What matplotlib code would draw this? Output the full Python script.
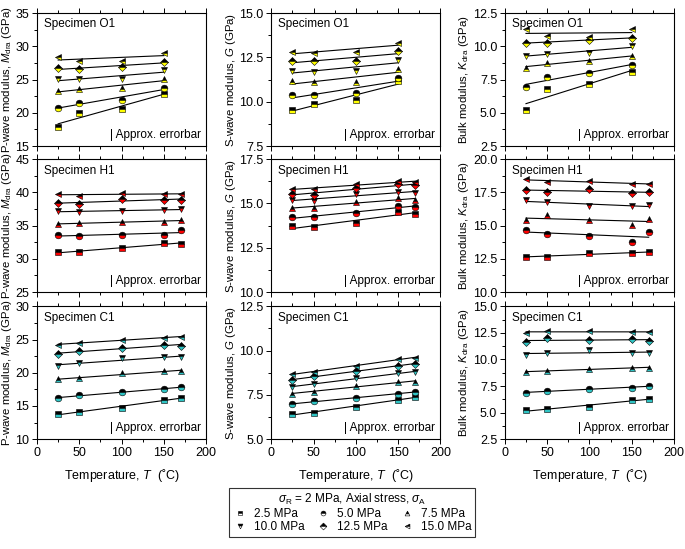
import matplotlib
matplotlib.use('Agg')
import matplotlib.pyplot as plt
from matplotlib.lines import Line2D
from matplotlib.ticker import MultipleLocator
import numpy as np

plt.rcParams['font.family'] = ['Liberation Sans', 'DejaVu Sans']
plt.rcParams['mathtext.fontset'] = 'custom'
plt.rcParams['mathtext.rm'] = 'Liberation Sans'
plt.rcParams['mathtext.it'] = 'Liberation Sans:italic'

stress_labels = ['2.5 MPa', '5.0 MPa', '7.5 MPa', '10.0 MPa', '12.5 MPa', '15.0 MPa']
markers = ['s', 'o', '^', 'v', 'D', '<']

temp_o1 = [25, 50, 100, 150]
temp_h1 = [25, 50, 100, 150, 170]
temp_c1 = [25, 50, 100, 150, 170]

# specimen O1
M_o1 = [[17.9, 20.0, 20.6, 22.9],
        [20.7, 21.5, 22.0, 23.7],
        [23.25, 23.6, 23.7, 25.1],
        [25.05, 25.05, 25.15, 26.4],
        [26.7, 26.65, 26.85, 27.7],
        [28.4, 27.8, 27.8, 29.0]]
G_o1 = [[9.52, 9.87, 10.1, 11.15],
        [10.37, 10.37, 10.48, 11.35],
        [11.15, 11.1, 11.1, 11.85],
        [11.75, 11.7, 11.73, 12.35],
        [12.3, 12.29, 12.29, 12.85],
        [12.8, 12.77, 12.83, 13.3]]
K_o1 = [[5.23, 6.78, 7.16, 8.09],
        [6.96, 7.68, 8.02, 8.6],
        [8.4, 8.76, 8.92, 9.28],
        [9.3, 9.43, 9.54, 10.0],
        [10.28, 10.28, 10.5, 10.64],
        [11.29, 10.77, 10.67, 11.29]]

# specimen H1
M_h1 = [[31.07, 31.0, 31.57, 32.4, 32.3],
        [33.65, 33.4, 33.55, 33.6, 34.3],
        [35.2, 35.4, 35.6, 35.6, 35.8],
        [37.2, 37.05, 37.2, 37.4, 37.45],
        [38.4, 38.3, 39.0, 38.9, 38.9],
        [39.7, 39.5, 39.9, 39.8, 39.7]]
G_h1 = [[13.71, 13.65, 13.9, 14.54, 14.42],
        [14.23, 14.21, 14.48, 14.87, 14.81],
        [14.77, 14.77, 15.06, 15.29, 15.21],
        [15.21, 15.15, 15.52, 15.65, 15.62],
        [15.54, 15.48, 15.87, 16.08, 16.02],
        [15.81, 15.81, 16.1, 16.25, 16.19]]
K_h1 = [[12.65, 12.65, 12.96, 12.91, 13.01],
        [14.67, 14.39, 14.21, 13.8, 14.52],
        [15.41, 15.77, 15.41, 15.08, 15.51],
        [16.91, 16.76, 16.45, 16.45, 16.56],
        [17.68, 17.55, 17.78, 17.45, 17.5],
        [18.5, 18.27, 18.39, 18.14, 18.14]]

# specimen C1
M_c1 = [[13.8, 14.1, 14.7, 15.9, 16.25],
        [16.2, 16.6, 17.1, 17.6, 17.8],
        [19.0, 19.2, 19.9, 20.25, 20.25],
        [21.0, 21.5, 22.2, 22.3, 22.35],
        [22.8, 23.3, 23.7, 24.2, 24.1],
        [24.2, 24.55, 24.95, 25.25, 25.45]]
G_c1 = [[6.44, 6.5, 6.79, 7.22, 7.41],
        [6.98, 7.14, 7.33, 7.57, 7.67],
        [7.57, 7.68, 8.02, 8.21, 8.25],
        [7.96, 8.11, 8.44, 8.74, 8.79],
        [8.35, 8.54, 8.83, 9.16, 9.26],
        [8.68, 8.79, 9.16, 9.51, 9.61]]
K_c1 = [[5.23, 5.33, 5.49, 6.2, 6.29],
        [6.84, 7.07, 7.23, 7.36, 7.48],
        [8.8, 8.96, 9.12, 9.22, 9.22],
        [10.41, 10.64, 10.86, 10.64, 10.6],
        [11.6, 11.99, 11.86, 11.92, 11.76],
        [12.5, 12.66, 12.72, 12.56, 12.56]]

specimens = ['Specimen O1', 'Specimen H1', 'Specimen C1']
temps = [temp_o1, temp_h1, temp_c1]
data = [[M_o1, G_o1, K_o1], [M_h1, G_h1, K_h1], [M_c1, G_c1, K_c1]]
colors = ['#ffff00', '#ff0000', '#2ec4c4']

ylims = [[(15, 35, 5), (7.5, 15, 2.5), (2.5, 12.5, 2.5)],
         [(25, 45, 5), (10, 17.5, 2.5), (10, 20, 2.5)],
         [(10, 30, 5), (5, 12.5, 2.5), (2.5, 15, 2.5)]]
ylabels = ['P-wave modulus, $M_{\\rm dra}$ (GPa)',
           'S-wave modulus, $G$ (GPa)',
           'Bulk modulus, $K_{\\rm dra}$ (GPa)']

fig = plt.figure(figsize=(6.85, 5.49), dpi=100)
lefts = [0.054, 0.396, 0.737]
bottoms = [0.734, 0.468, 0.200]
w, h = 0.247, 0.242

for r in range(3):
    for c in range(3):
        ax = fig.add_axes([lefts[c], bottoms[r], w, h])
        T = np.array(temps[r])
        for k, vals in enumerate(data[r][c]):
            vals = np.array(vals)
            p = np.polyfit(T, vals, 1)
            ax.plot([T[0], T[-1]], np.polyval(p, [T[0], T[-1]]), color='black', lw=0.8, zorder=2)
            ax.plot(T, vals, ls='none', marker=markers[k], ms=4.8 if markers[k] != 'D' else 4.2,
                    fillstyle='top', markerfacecolor='black', markerfacecoloralt=colors[r],
                    markeredgecolor='black', markeredgewidth=0.4, zorder=3)
        lo, hi, step = ylims[r][c]
        ax.set_ylim(lo, hi)
        ax.set_xlim(0, 200)
        ax.yaxis.set_major_locator(MultipleLocator(step))
        ax.yaxis.set_minor_locator(MultipleLocator(step / 2))
        ax.xaxis.set_major_locator(MultipleLocator(50))
        ax.xaxis.set_minor_locator(MultipleLocator(25))
        if step == 2.5:
            ax.yaxis.set_major_formatter(matplotlib.ticker.FormatStrFormatter('%.1f'))
        ax.tick_params(which='both', direction='out', top=True, right=False, labelsize=9, pad=2)
        ax.tick_params(which='major', length=3.5, width=0.7)
        ax.tick_params(which='minor', length=2, width=0.7)
        if r < 2:
            ax.set_xticklabels([])
        else:
            ax.set_xlabel('Temperature, $T$  (˚C)', fontsize=9, labelpad=6)
        ax.set_ylabel(ylabels[c], fontsize=8.2, labelpad=1)
        for s in ax.spines.values():
            s.set_linewidth(0.8)
        ax.text(0.04, 0.96, specimens[r], transform=ax.transAxes, ha='left', va='top', fontsize=8.5)
        ax.text(0.97, 0.04, '| Approx. errorbar', transform=ax.transAxes, ha='right', va='bottom', fontsize=8.5)

handles = []
order = [0, 3, 1, 4, 2, 5]
for k in order:
    handles.append(Line2D([], [], ls='none', marker=markers[k], ms=3.5, fillstyle='top',
                          markerfacecolor='black', markerfacecoloralt='white',
                          markeredgecolor='black', markeredgewidth=0.4))
leg = fig.legend(handles, [stress_labels[k] for k in order], ncol=3, loc='center',
                 bbox_to_anchor=(0.514, 0.066), fontsize=8.5,
                 title='$\\sigma_{\\rm R}$ = 2 MPa, Axial stress, $\\sigma_{\\rm A}$',
                 title_fontsize=8.5, frameon=True, fancybox=False, edgecolor='black',
                 handlelength=1.2, handletextpad=0.6, columnspacing=1.0,
                 labelspacing=0.1, borderpad=0.3)
leg.get_frame().set_linewidth(0.8)

fig.savefig('out.png', dpi=100)
